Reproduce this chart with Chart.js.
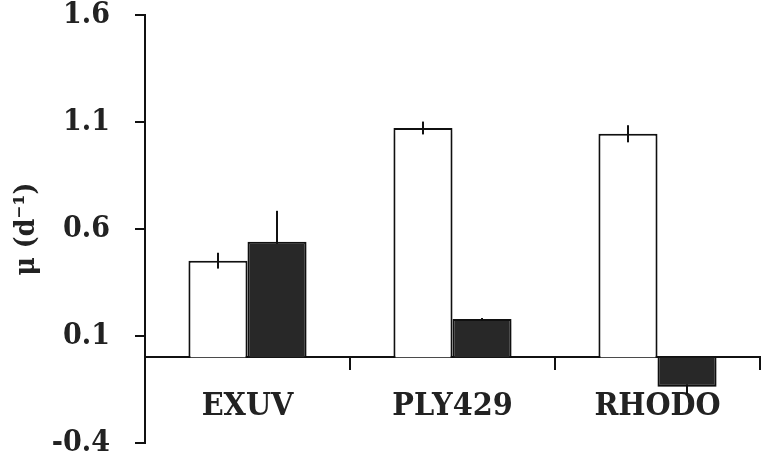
<!DOCTYPE html>
<html>
<head>
<meta charset="utf-8">
<script src="https://cdn.jsdelivr.net/npm/chart.js@4"></script>
<style>
  html, body { margin: 0; padding: 0; background: #fff; }
  #wrap { width: 768px; height: 464px; }
</style>
</head>
<body>
<div id="wrap"><canvas id="chart_bars"></canvas></div>
<script>
// datos
var categorias = ['EXUV', 'PLY429', 'RHODO'];
var muBlanco = [0.452, 1.072, 1.045];
var errBlanco = [0.037, 0.03, 0.04];
var muNegro = [0.541, 0.179, -0.137];
var errNegro = [0.144, 0.005, 0.034];
var ticksY = [-0.4, 0.1, 0.6, 1.1, 1.6];

var fuente = "'DejaVu Serif Condensed', 'DejaVu Serif', serif";
var errores = [errBlanco, errNegro];

function dibujarErrores(chart, i) {
	var ctx = chart.ctx;
	var y = chart.scales.y;
	var ds = chart.data.datasets[i];
	var meta = chart.getDatasetMeta(i);
	ctx.save();
	ctx.shadowColor = 'transparent';
	ctx.strokeStyle = '#111';
	ctx.lineWidth = 2;
	meta.data.forEach(function (bar, j) {
		var v = ds.data[j];
		var e = errores[i][j];
		ctx.beginPath();
		ctx.moveTo(bar.x, y.getPixelForValue(v + e));
		ctx.lineTo(bar.x, y.getPixelForValue(v - e));
		ctx.stroke();
	});
	ctx.restore();
}

// barras de error + sombra suave bajo las barras
// (serie negra: la barra tapa la mitad interior del error, como en el original)
var errorBarsPlugin = {
	id: 'errorBars',
	beforeDatasetsDraw: function (chart) {
		var ctx = chart.ctx;
		ctx.save();
		ctx.shadowColor = 'rgba(0,0,0,0.22)';
		ctx.shadowBlur = 6;
		ctx.shadowOffsetY = 3;
	},
	beforeDatasetDraw: function (chart, args) {
		if (args.index === 1) dibujarErrores(chart, 1);
	},
	afterDatasetsDraw: function (chart) {
		chart.ctx.restore();
		dibujarErrores(chart, 0);
	}
};

var ctx = document.getElementById('chart_bars').getContext('2d');
var chart = new Chart(ctx, {
	type: 'bar',
	data: {
		labels: categorias,
		datasets: [{
			data: muBlanco,
			backgroundColor: '#ffffff',
			borderColor: '#111',
			borderWidth: 2
		}, {
			data: muNegro,
			backgroundColor: '#282828',
			borderColor: '#111',
			borderWidth: 2
		}]
	},
	options: {
		responsive: true,
		maintainAspectRatio: false,
		animation: false,
		categoryPercentage: 0.576,
		barPercentage: 1.0,
		layout: { padding: { top: 15, bottom: 21, right: 8, left: 0 } },
		plugins: {
			legend: { display: false },
			tooltip: { enabled: false }
		},
		scales: {
			x: {
				position: { y: 0 },
				afterFit: function (s) {
					s.height = 0;
					s.paddingLeft = 0;
					s.paddingRight = 0;
				},
				grid: {
					display: true,
					drawOnChartArea: false,
					offset: true,
					tickLength: 12,
					lineWidth: 2,
					color: '#111'
				},
				border: { display: true, color: '#111', width: 2 },
				ticks: {
					padding: 18,
					color: '#222',
					font: { family: fuente, size: 32, weight: 'bold' }
				}
			},
			y: {
				min: -0.4,
				max: 1.6,
				afterFit: function (s) {
					s.width = 145;
					s.paddingTop = 0;
					s.paddingBottom = 0;
				},
				afterBuildTicks: function (s) {
					s.ticks = ticksY.map(function (v) { return { value: v }; });
				},
				grid: {
					display: true,
					drawOnChartArea: false,
					tickLength: 10,
					lineWidth: 2,
					color: '#111'
				},
				border: { display: true, color: '#111', width: 2 },
				ticks: {
					padding: 25,
					color: '#222',
					font: { family: fuente, size: 30, weight: 'bold' },
					callback: function (v) { return Number(v).toFixed(1); }
				},
				title: {
					display: true,
					text: 'μ (d⁻¹)',
					color: '#222',
					padding: { top: 10, bottom: 0 },
					font: { family: fuente, size: 28, weight: 'bold' }
				}
			}
		}
	},
	plugins: [errorBarsPlugin]
});
</script>
</body>
</html>
